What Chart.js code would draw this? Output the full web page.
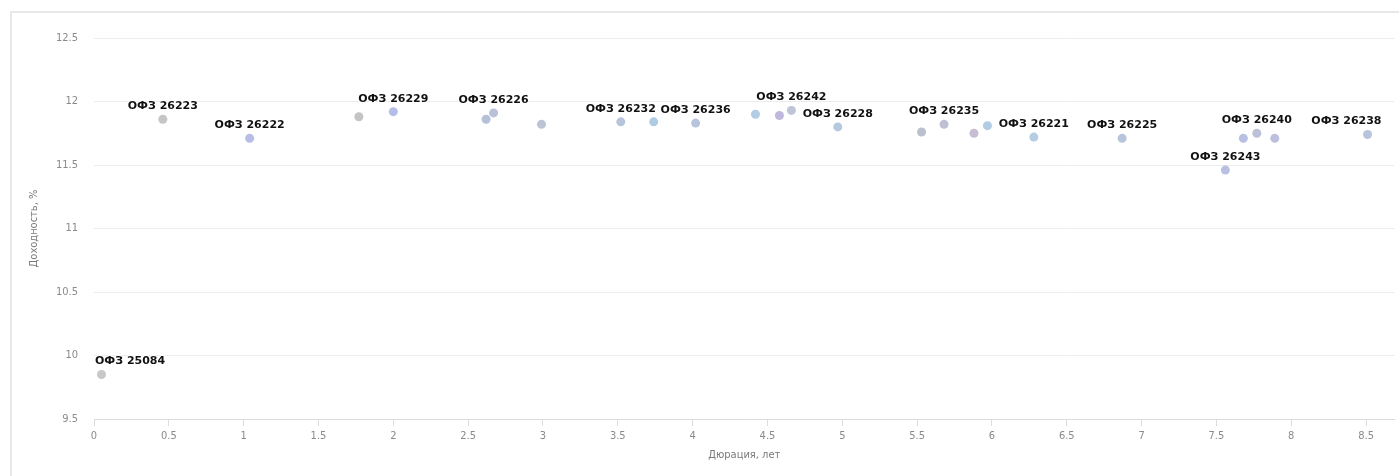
<!DOCTYPE html>
<html>
<head>
<meta charset="utf-8">
<script src="https://cdn.jsdelivr.net/npm/chart.js@4/dist/chart.umd.min.js"></script>
<style>
  html, body { margin: 0; padding: 0; background: #fff; overflow: hidden; }
  .frame { position: absolute; left: 10px; top: 11px; width: 1420px; height: 500px; border: 2px solid #e8e8e8; }
  .chart-container { position: absolute; left: 0; top: 0; width: 1399px; height: 476px; }
</style>
</head>
<body>
<div class="frame"></div>
<div class="chart-container"><canvas id="chartCanvas"></canvas></div>
<script>
// duration (years), yield (%), bond name (null = label hidden), point colour
const durations = [0.05, 0.46, 1.04, 1.77, 2.0, 2.62, 2.67, 2.99, 3.52, 3.74, 4.02, 4.42, 4.58, 4.66, 4.97, 5.53, 5.68, 5.88, 5.97, 6.28, 6.87, 7.56, 7.68, 7.77, 7.89, 8.51];
const yields = [9.85, 11.86, 11.71, 11.88, 11.92, 11.86, 11.91, 11.82, 11.84, 11.84, 11.83, 11.90, 11.89, 11.93, 11.80, 11.76, 11.82, 11.75, 11.81, 11.72, 11.71, 11.46, 11.71, 11.75, 11.71, 11.74];
const bondNames = ['ОФЗ 25084', 'ОФЗ 26223', 'ОФЗ 26222', null, 'ОФЗ 26229', null, 'ОФЗ 26226', null, 'ОФЗ 26232', null, 'ОФЗ 26236', null, null, 'ОФЗ 26242', 'ОФЗ 26228', null, 'ОФЗ 26235', null, null, 'ОФЗ 26221', 'ОФЗ 26225', 'ОФЗ 26243', null, 'ОФЗ 26240', null, 'ОФЗ 26238'];
const pointColors = ['#c8c8c8', '#c6c6c6', '#b6bde6', '#c4c4c4', '#b4bde8', '#b6c0d8', '#b8c2d6', '#bcc4d4', '#b8c4dc', '#b0cbe4', '#b8c4dc', '#b2cce4', '#c0b8dc', '#c0c4d8', '#b4c8e0', '#bcc0cc', '#c0c0d4', '#c8bcd4', '#b2cce4', '#b4cce4', '#b8c4dc', '#b8c0e4', '#b8c0e4', '#bcc0d8', '#bcc0dc', '#b8c4dc'];
const xTitle = 'Дюрация, лет', yTitle = 'Доходность, %';

const axisFont = { family: '"Liberation Sans Narrow", "DejaVu Sans Condensed", sans-serif', size: 11 };
const plainNum = v => String(Math.round(v * 10) / 10);

// bond names above points, kept inside the plot area like the original
const pointLabels = {
  id: 'pointLabels',
  afterDatasetsDraw(chart) {
    const ctx = chart.ctx, meta = chart.getDatasetMeta(0), area = chart.chartArea;
    ctx.save();
    ctx.font = 'bold 11px "DejaVu Sans", sans-serif';
    ctx.textAlign = 'center'; ctx.textBaseline = 'middle';
    ctx.lineJoin = 'round';
    meta.data.forEach((pt, i) => {
      const name = bondNames[i];
      if (!name) return;
      const half = ctx.measureText(name).width / 2;
      let x = pt.x;
      if (x - half < area.left + 1) x = area.left + 1 + half;
      if (x + half > area.right - 13) x = area.right - 13 - half;
      ctx.strokeStyle = 'rgba(255,255,255,0.9)'; ctx.lineWidth = 2;
      ctx.strokeText(name, x, pt.y - 13);
      ctx.fillStyle = '#111';
      ctx.fillText(name, x, pt.y - 13);
    });
    ctx.restore();
  }
};

const data = { datasets: [{ data: durations.map((d, i) => ({ x: d, y: yields[i] })), backgroundColor: pointColors, borderWidth: 0, pointRadius: 4.5, pointHoverRadius: 4.5 }] };

const options = {
  responsive: true, maintainAspectRatio: false, animation: false,
  layout: { padding: { left: 24, top: 38, right: 0, bottom: 10 } },
  plugins: { legend: { display: false }, tooltip: { enabled: false } },
  scales: {
    x: {
      type: 'linear', min: 0, max: 8.69,
      ticks: { stepSize: 0.5, includeBounds: false, color: '#8a8a8a', font: axisFont, padding: 4, maxRotation: 0, callback: plainNum },
      grid: { drawOnChartArea: false, drawTicks: true, tickLength: 7, color: '#dcdcdc' },
      border: { display: true, color: '#dcdcdc' },
      title: { display: true, text: xTitle, color: '#7a7a7a', font: axisFont, padding: 4 },
      afterFit(scale) { scale.height = 47; }
    },
    y: {
      min: 9.5, max: 12.5,
      ticks: { stepSize: 0.5, color: '#8a8a8a', font: axisFont, padding: 16, callback: plainNum },
      grid: { color: '#ececec', drawTicks: false },
      border: { display: false },
      title: { display: true, text: yTitle, color: '#7a7a7a', font: axisFont, padding: 4 },
      afterFit(scale) { scale.width = 70; }
    }
  }
};

new Chart(document.getElementById('chartCanvas').getContext('2d'), { type: 'scatter', data: data, options: options, plugins: [pointLabels] });
</script>
</body>
</html>
